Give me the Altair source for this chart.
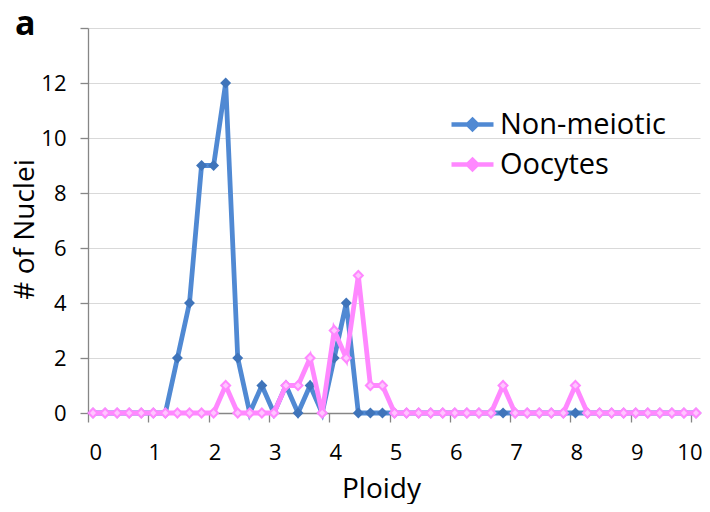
import altair as alt
import pandas as pd

# ---- data ----
ploidy = [0.0, 0.2, 0.4, 0.6, 0.8, 1.0, 1.2, 1.4, 1.6, 1.8,
          2.0, 2.2, 2.4, 2.6, 2.8, 3.0, 3.2, 3.4, 3.6, 3.8,
          4.0, 4.2, 4.4, 4.6, 4.8, 5.0, 5.2, 5.4, 5.6, 5.8,
          6.0, 6.2, 6.4, 6.6, 6.8, 7.0, 7.2, 7.4, 7.6, 7.8,
          8.0, 8.2, 8.4, 8.6, 8.8, 9.0, 9.2, 9.4, 9.6, 9.8, 10.0]

non_meiotic = [0, 0, 0, 0, 0, 0, 0, 2, 4, 9,
               9, 12, 2, 0, 1, 0, 1, 0, 1, 0,
               2, 4, 0, 0, 0, 0, 0, 0, 0, 0,
               0, 0, 0, 0, 0, 0, 0, 0, 0, 0,
               0, 0, 0, 0, 0, 0, 0, 0, 0, 0, 0]

oocytes = [0, 0, 0, 0, 0, 0, 0, 0, 0, 0,
           0, 1, 0, 0, 0, 0, 1, 1, 2, 0,
           3, 2, 5, 1, 1, 0, 0, 0, 0, 0,
           0, 0, 0, 0, 1, 0, 0, 0, 0, 0,
           1, 0, 0, 0, 0, 0, 0, 0, 0, 0, 0]

series_names = ["Non-meiotic", "Oocytes"]
x_ticks = [0, 1, 2, 3, 4, 5, 6, 7, 8, 9, 10]
y_ticks = [0, 2, 4, 6, 8, 10, 12, 14]
panel_label = ["a"]

df = pd.DataFrame({
    "ploidy": ploidy + ploidy,
    "count": non_meiotic + oocytes,
    "series": [series_names[0]] * len(ploidy) + [series_names[1]] * len(ploidy),
})

BLUE = "#5089D3"
BLUE_MARK = "#3F74BA"
PINK = "#FF88FF"
PINK_FILL = "#FFC6FF"
FONT = "Open Sans"

x_enc = alt.X(
    "ploidy:Q",
    scale=alt.Scale(domain=[-0.083, 10.066], nice=False, zero=False),
    axis=alt.Axis(values=x_ticks, title="Ploidy", format="d",
                  tickSize=9, tickOffset=-5, labelOffset=6,
                  labelFlush=10, labelFlushOffset=5,
                  labelPadding=20, titleFontSize=28,
                  titleBaseline="alphabetic", titleX=293, titleY=84,
                  grid=False),
)
y_enc = alt.Y(
    "count:Q",
    scale=alt.Scale(domain=[0, 14], nice=False),
    axis=alt.Axis(values=y_ticks, title="# of Nuclei",
                  labelExpr="datum.value == 14 ? '' : datum.label",
                  tickSize=8, labelPadding=14, titleFontSize=28,
                  titleBaseline="alphabetic", titleX=-55, titleY=201,
                  grid=True),
)
color_enc = alt.Color(
    "series:N",
    scale=alt.Scale(domain=series_names, range=[BLUE, PINK]),
    legend=alt.Legend(
        title=None, orient="none", legendX=361, legendY=73,
        symbolType="M-1,0H1M0,-0.22L0.22,0L0,0.22L-0.22,0Z",
        symbolSize=1764, symbolStrokeWidth=4.5,
        labelFont=FONT, labelFontSize=29, labelColor="black",
        labelOffset=4, rowPadding=1, labelLimit=400,
    ),
)

base = alt.Chart(df)
blue = base.transform_filter(alt.datum.series == series_names[0])
pink = base.transform_filter(alt.datum.series == series_names[1])

blue_line = blue.mark_line(strokeWidth=4.8).encode(x=x_enc, y=y_enc, color=color_enc)
blue_pts = blue.mark_point(shape="diamond", filled=True, size=120, color=BLUE_MARK,
                           opacity=1).encode(x=x_enc, y=y_enc)
pink_line = pink.mark_line(strokeWidth=4.8).encode(x=x_enc, y=y_enc, color=color_enc)
pink_pts = pink.mark_point(shape="diamond", filled=True, size=80, fill=PINK_FILL,
                           stroke=PINK, strokeWidth=2, opacity=1).encode(x=x_enc, y=y_enc)

label_a = alt.Chart(pd.DataFrame({"t": panel_label})).mark_text(
    font=FONT, fontSize=34, fontWeight="bold", align="left", baseline="alphabetic",
    color="black",
).encode(text="t:N", x=alt.value(-73), y=alt.value(7))

chart = alt.layer(blue_line, blue_pts, pink_line, pink_pts, label_a).properties(
    width=612, height=385,
    autosize=alt.AutoSizeParams(type="none"),
    padding={"left": 80, "top": 20, "right": 2, "bottom": 91},
).configure_view(stroke=None).configure_axis(
    domainColor="#868686", tickColor="#868686", gridColor="#D9D9D9",
    labelFont=FONT, labelFontSize=22, labelColor="black",
    titleFont=FONT, titleFontWeight="normal", titleColor="black",
    domainWidth=1.3, tickWidth=1.3,
)

chart.save("out.html", embed_options={"renderer": "svg", "actions": False})
